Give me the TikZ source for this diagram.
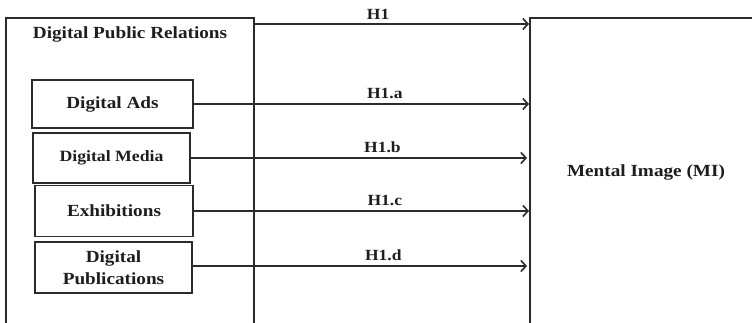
\documentclass[tikz,border=0pt]{standalone}
\usepackage{fontspec}
\setmainfont[FakeStretch=1.13]{Liberation Serif}
\usetikzlibrary{arrows.meta}
\definecolor{ink}{HTML}{2B2B2B}
\definecolor{txt}{HTML}{1E1E1E}
\tikzset{
  frame/.style={draw=ink, line width=1.6pt, rectangle, inner sep=0pt},
  itembox/.style={frame, font=\fontsize{17}{22}\selectfont\bfseries, text=txt, align=center},
  caption/.style={font=\fontsize{17}{20}\selectfont\bfseries, text=txt, inner sep=0pt},
  hyplabel/.style={font=\fontsize{15.5}{16}\selectfont\bfseries, text=txt, inner sep=0pt, above=4pt},
  arr/.style={draw=ink, line width=1.6pt, -{Straight Barb[length=5pt,width=11pt,line width=1.6pt]}}
}
\begin{document}
\begin{tikzpicture}[x=1pt,y=-1pt]
  \useasboundingbox (0,0) rectangle (752,323);
  \fill[white] (0,0) rectangle (752,323);
  \begin{scope}
    \clip (0,0) rectangle (752,323);
    % outer frames, both running past the lower edge
    \node[frame, anchor=north west, minimum width=248pt, minimum height=330pt] (dpr) at (5,17) {};
    \node[frame, anchor=north west, minimum width=260pt, minimum height=330pt] (mi) at (529,17) {};
  \end{scope}
  \node[caption, anchor=base] (dprtitle) at (130,39) {Digital Public Relations};
  \node[caption] (mitext) at (646,172) {Mental Image (MI)};

  % dimensions of digital public relations
  \node[itembox, minimum width=161pt, minimum height=48pt] (ads) at (112.5,104) {Digital Ads};
  \node[itembox, minimum width=157pt, minimum height=50pt, font=\fontsize{15.7}{20}\selectfont\bfseries] (media) at (111.5,158) {Digital Media};
  \node[itembox, minimum width=158pt, minimum height=51pt] (exh) at (114,211) {Exhibitions};
  \node[itembox, minimum width=157pt, minimum height=51pt] (pub) at (113.5,267.5) {Digital\\Publications};

  % hypotheses
  \draw[arr] ([yshift=-7pt]dpr.north east) -- ([yshift=-7pt]mi.north west) node[hyplabel, pos=0.45] {H1};
  \draw[arr] (ads.east) -- (ads.east -| mi.west) node[hyplabel, pos=0.57] {H1.a};
  \draw[arr] (media.east) -- ([xshift=-2pt]media.east -| mi.west) node[hyplabel, pos=0.57] {H1.b};
  \draw[arr] (exh.east) -- (exh.east -| mi.west) node[hyplabel, pos=0.57] {H1.c};
  \draw[arr] ([yshift=1.5pt]pub.east) -- ([yshift=1.5pt,xshift=-2pt]pub.east -| mi.west) node[hyplabel, pos=0.57] {H1.d};
\end{tikzpicture}
\end{document}
